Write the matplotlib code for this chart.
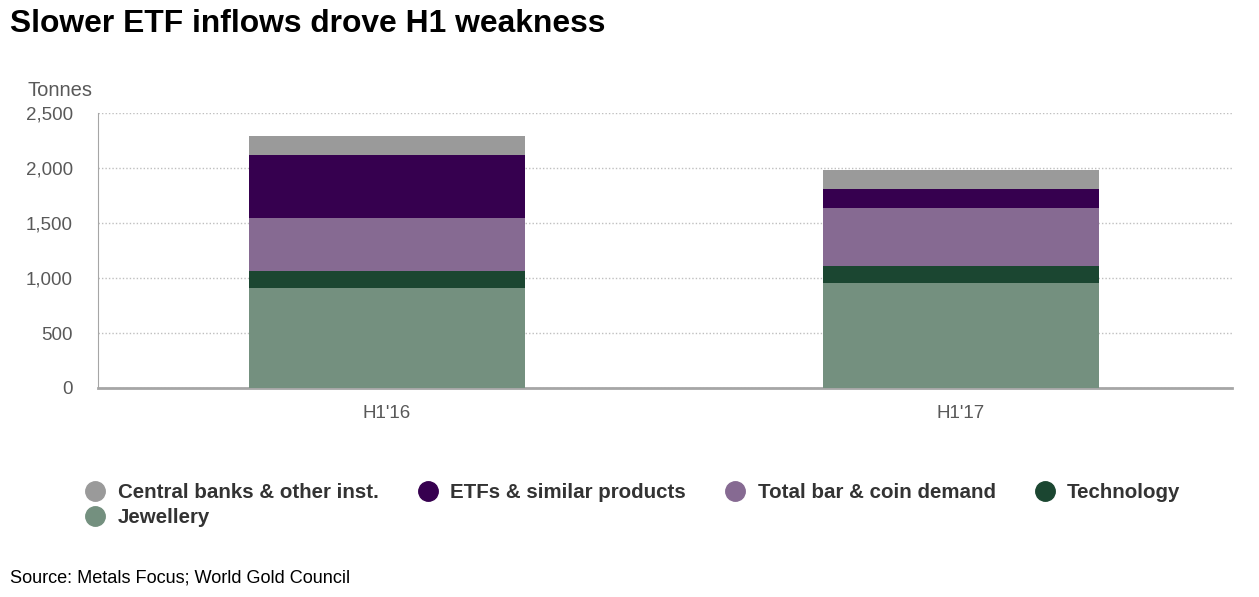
import matplotlib.pyplot as plt
import numpy as np
from matplotlib.lines import Line2D

plt.rcParams["font.family"] = ["Liberation Sans", "DejaVu Sans"]

categories = ["H1'16", "H1'17"]
series_names = [
    "Jewellery",
    "Technology",
    "Total bar & coin demand",
    "ETFs & similar products",
    "Central banks & other inst.",
]
jewellery = [909, 956]
technology = [155, 155]
bar_coin = [484, 526]
etfs = [570, 173]
central_banks = [173, 173]
yticks = [0, 500, 1000, 1500, 2000, 2500]

colors = {
    "Jewellery": "#74907f",
    "Technology": "#1b4631",
    "Total bar & coin demand": "#866a92",
    "ETFs & similar products": "#36004f",
    "Central banks & other inst.": "#9a9a9a",
}

W, H = 1259, 597
fig = plt.figure(figsize=(W / 100, H / 100), dpi=100)
ax = fig.add_axes([98 / W, 1 - 388 / H, 1134 / W, 275 / H])

x = np.arange(len(categories))
bottom = np.zeros(len(categories))
for name, vals in zip(series_names, [jewellery, technology, bar_coin, etfs, central_banks]):
    ax.bar(x, vals, width=0.481, bottom=bottom, color=colors[name], zorder=3)
    bottom += np.array(vals)

ax.set_xlim(-0.5035, 1.4721)
ax.set_ylim(0, 2500)
ax.set_yticks(yticks)
ax.set_yticklabels([f"{v:,}" for v in yticks])
ax.set_xticks(x)
ax.set_xticklabels(categories)
ax.tick_params(axis="both", length=0, labelsize=13.5, labelcolor="#595959")
ax.tick_params(axis="y", pad=18)
ax.tick_params(axis="x", pad=12)
ax.yaxis.grid(True, linestyle=(0, (1, 1.5)), color="#bfbfbf", linewidth=1, zorder=0)
for s in ["top", "right"]:
    ax.spines[s].set_visible(False)
ax.spines["left"].set_color("#a6a6a6")
ax.spines["bottom"].set_color("#a6a6a6")
ax.spines["bottom"].set_linewidth(2)

fig.text(10 / W, 1 - 24 / H, "Slower ETF inflows drove H1 weakness", fontsize=22.9,
         fontweight="bold", va="center", ha="left")
fig.text(27 / W, 1 - 90 / H, "Tonnes", fontsize=14.5, color="#595959", va="center", ha="left")
fig.text(10 / W, 1 - 578 / H, "Source: Metals Focus; World Gold Council", fontsize=13.1,
         va="center", ha="left")

order = ["Central banks & other inst.", "Jewellery", "ETFs & similar products",
         "Total bar & coin demand", "Technology"]
handles = [Line2D([], [], linestyle="none", marker="o", markersize=14,
                  markerfacecolor=colors[n], markeredgecolor=colors[n]) for n in order]
fig.legend(handles, order, loc="upper left", bbox_to_anchor=(85 / W, 1 - 483 / H),
           ncol=4, frameon=False, borderpad=0, borderaxespad=0, handlelength=1.0,
           handletextpad=0.6, columnspacing=1.88, labelspacing=0.3,
           prop={"size": 14.8, "weight": "bold"}, labelcolor="#333333")

fig.savefig("out.png", dpi=100)
